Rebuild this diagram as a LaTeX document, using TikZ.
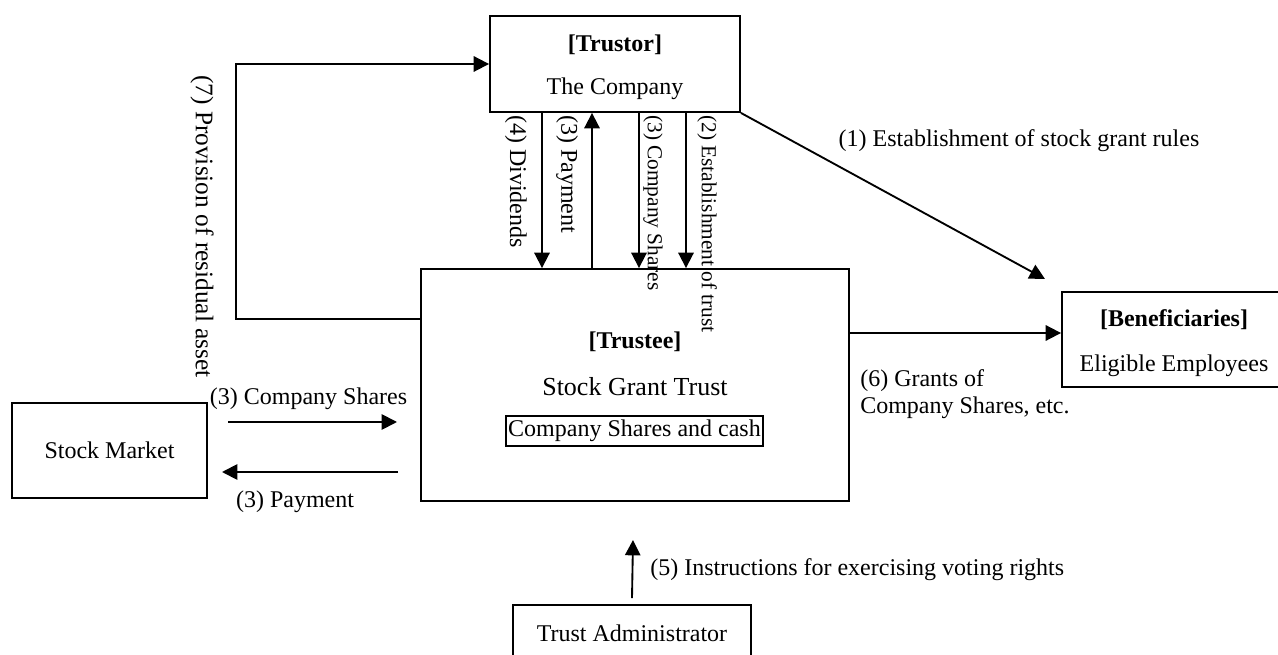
\documentclass[tikz,border=0pt]{standalone}
\usepackage{fontspec}
\setmainfont{Liberation Serif}
\usetikzlibrary{arrows.meta}

\tikzset{
  box/.style={draw, line width=1.4pt, rectangle, inner sep=0pt},
  arr/.style={-{Triangle[length=11.5pt,width=11.5pt]}, line width=1.4pt},
  lbl/.style={inner sep=0pt},
  vlbl/.style={inner sep=0pt, rotate=-90, anchor=west},
  small/.style={font=\fontsize{16}{19}\selectfont}
}

\begin{document}
\begin{tikzpicture}[x=0.75pt, y=-0.75pt, font=\fontsize{18}{21.6}\selectfont]
\useasboundingbox (0,0) rectangle (1278,655);
\clip (0,0) rectangle (1278,655);
% Parties
\node[box, minimum width=187.5pt, minimum height=72pt] (trustor) at (615,64) {};
\node[lbl] (trustorhead) at (615,45) {\textbf{[Trustor]}};
\node[lbl] (trustorname) at (615,89) {The Company};
\node[box, minimum width=321pt, minimum height=174pt] (trustee) at (635,385) {};
\node[lbl] (trusteehead) at (635,342) {\textbf{[Trustee]}};
\node[lbl, font=\fontsize{19.5}{23}\selectfont] (trustname) at (635,387) {Stock Grant Trust};
\node[box, line width=1.1pt, inner xsep=1.5pt, inner ysep=3pt] (assets) at (634.5,431) {Company Shares and cash};
\node[box, minimum width=168pt, minimum height=71.25pt] (benef) at (1174,339.5) {};
\node[lbl] (benefhead) at (1174,320) {\textbf{[Beneficiaries]}};
\node[lbl] (benefname) at (1174,366) {Eligible Employees};
\node[box, minimum width=146.25pt, minimum height=71.25pt] (market) at (109.5,450.5) {Stock Market};
\node[box, minimum width=178.5pt, minimum height=42pt] (admin) at (632,633) {Trust Administrator};
% Columns between trustor and trustee
\coordinate (c4) at (542,0);
\coordinate (c3p) at (592,0);
\coordinate (c3s) at (639,0);
\coordinate (c2) at (686,0);
\draw[arr] (c4 |- trustor.south) -- (c4 |- trustee.north);
\draw[arr] (c3p |- trustee.north) -- (c3p |- trustor.south);
\draw[arr] (c3s |- trustor.south) -- (c3s |- trustee.north);
\draw[arr] (c2 |- trustor.south) -- (c2 |- trustee.north);
\node[vlbl] (lbl4) at (516,115) {(4) Dividends};
\node[vlbl] (lbl3p) at (567,115) {(3) Payment};
\node[vlbl, small] (lbl3s) at (653,115) {(3) Company Shares};
\node[vlbl, small] (lbl2) at (707,115) {(2) Establishment of trust};
% (7) Residual asset back to trustor
\coordinate (resid) at (236,319);
\draw[arr] (trustee.west |- resid) -- (resid) |- (trustor.west);
\node[vlbl, font=\fontsize{19}{23}\selectfont] (lbl7) at (202,75) {(7) Provision of residual asset};
% (1) Stock grant rules
\coordinate (rulesend) at (1045,279);
\draw[arr] (trustor.south east) -- (rulesend);
\node[lbl] (lbl1) at (1019,141) {(1) Establishment of stock grant rules};
% (6) Grants
\coordinate (grantrow) at (0,333);
\draw[arr] (trustee.east |- grantrow) -- (benef.west |- grantrow);
\node[lbl, align=left, anchor=west, font=\fontsize{18}{20.25}\selectfont] (lbl6) at (860,394)
  {(6) Grants of\\Company Shares, etc.};
% Stock market trades
\coordinate (buyL) at (228,422);
\coordinate (buyR) at (397,422);
\coordinate (payL) at (222,472);
\coordinate (payR) at (398,472);
\draw[arr] (buyL) -- (buyR);
\draw[arr] (payR) -- (payL);
\node[lbl] (lblbuy) at (308.5,399) {(3) Company Shares};
\node[lbl] (lblpay) at (295,502) {(3) Payment};
% (5) Voting instructions
\coordinate (voteend) at (633,540);
\draw[arr] ([yshift=4.5pt]admin.north) -- (voteend);
\node[lbl, anchor=west] (lbl5) at (650,570) {(5) Instructions for exercising voting rights};
\end{tikzpicture}
\end{document}
